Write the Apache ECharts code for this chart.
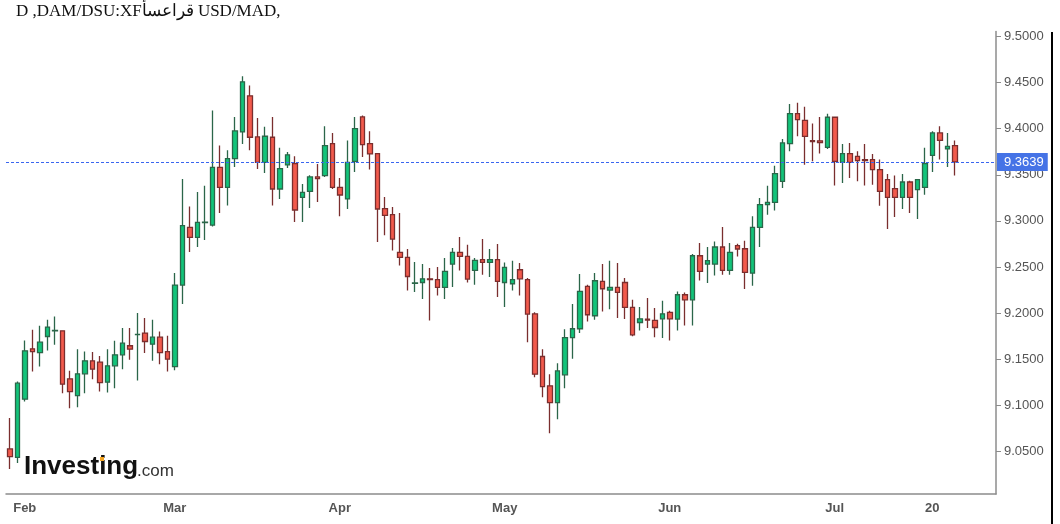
<!DOCTYPE html>
<html>
<head>
<meta charset="utf-8">
<title>USD/MAD</title>
<script src="https://cdn.jsdelivr.net/npm/echarts@6/dist/echarts.min.js"></script>
<style>
  html, body { margin: 0; padding: 0; background: #fff; }
  #chart { width: 1060px; height: 524px; }
</style>
</head>
<body>
<div id="chart"></div>
<script>
// daily candles
var opens = [
  9.0527, 9.0436, 9.1066, 9.1612, 9.1572, 9.1746, 9.1808, 9.1808, 9.1287, 9.1105,
  9.1341, 9.1482, 9.1468, 9.1251, 9.1428, 9.1547, 9.1646, 9.1766, 9.1783, 9.1663,
  9.1739, 9.1583, 9.1420, 9.2304, 9.2930, 9.2821, 9.2982, 9.2955, 9.3581, 9.3364,
  9.3675, 9.3965, 9.4356, 9.3911, 9.3635, 9.3907, 9.3346, 9.3607, 9.3621, 9.3255,
  9.3320, 9.3477, 9.3491, 9.3838, 9.3364, 9.3238, 9.3646, 9.4128, 9.3838, 9.3730,
  9.3132, 9.3067, 9.2658, 9.2604, 9.2322, 9.2332, 9.2372, 9.2362, 9.2278, 9.2532,
  9.2658, 9.2615, 9.2463, 9.2579, 9.2549, 9.2579, 9.2332, 9.2318, 9.2470, 9.2362,
  9.1992, 9.1529, 9.1211, 9.1029, 9.1330, 9.1735, 9.1830, 9.2289, 9.1971, 9.2343,
  9.2250, 9.2278, 9.2332, 9.2061, 9.1898, 9.1935, 9.1920, 9.1938, 9.2007, 9.1935,
  9.2199, 9.2144, 9.2622, 9.2532, 9.2532, 9.2717, 9.2463, 9.2731, 9.2698, 9.2434,
  9.2930, 9.3176, 9.3201, 9.3429, 9.3838, 9.4164, 9.4091, 9.3871, 9.3868, 9.3798,
  9.4124, 9.3635, 9.3730, 9.3700, 9.3665, 9.3665, 9.3556, 9.3447, 9.3350, 9.3255,
  9.3422, 9.3339, 9.3364, 9.3711, 9.3954, 9.3781, 9.3817
];
var closes = [
  9.0443, 9.1240, 9.1591, 9.1583, 9.1685, 9.1848, 9.1812, 9.1229, 9.1149, 9.1341,
  9.1482, 9.1392, 9.1246, 9.1428, 9.1547, 9.1674, 9.1609, 9.1770, 9.1692, 9.1739,
  9.1572, 9.1500, 9.2304, 9.2948, 9.2821, 9.2984, 9.2986, 9.3581, 9.3364, 9.3675,
  9.3976, 9.4508, 9.3907, 9.3635, 9.3918, 9.3346, 9.3567, 9.3716, 9.3118, 9.3309,
  9.3477, 9.3458, 9.3817, 9.3364, 9.3281, 9.3635, 9.4001, 9.3827, 9.3726, 9.3129,
  9.3060, 9.2803, 9.2604, 9.2397, 9.2327, 9.2372, 9.2362, 9.2278, 9.2452, 9.2658,
  9.2615, 9.2369, 9.2571, 9.2549, 9.2579, 9.2343, 9.2495, 9.2362, 9.2372, 9.1989,
  9.1338, 9.1203, 9.1029, 9.1373, 9.1735, 9.1830, 9.2235, 9.1982, 9.2351, 9.2264,
  9.2278, 9.2224, 9.2061, 9.1764, 9.1938, 9.1924, 9.1844, 9.1992, 9.1938, 9.2199,
  9.2144, 9.2622, 9.2452, 9.2568, 9.2717, 9.2463, 9.2658, 9.2695, 9.2441, 9.2930,
  9.3176, 9.3201, 9.3512, 9.3846, 9.4164, 9.4099, 9.3917, 9.3860, 9.3849, 9.4124,
  9.3646, 9.3730, 9.3635, 9.3654, 9.3654, 9.3556, 9.3320, 9.3255, 9.3255, 9.3422,
  9.3255, 9.3447, 9.3621, 9.3954, 9.3874, 9.3809, 9.3639
];
var lows = [
  9.0310, 9.0375, 9.1040, 9.1366, 9.1420, 9.1594, 9.1656, 9.1131, 9.0968, 9.0979,
  9.1131, 9.1283, 9.1149, 9.1138, 9.1186, 9.1392, 9.1493, 9.1268, 9.1566, 9.1482,
  9.1446, 9.1366, 9.1380, 9.2098, 9.2662, 9.2717, 9.2793, 9.2940, 9.3086, 9.3168,
  9.3585, 9.3835, 9.3766, 9.3564, 9.3520, 9.3168, 9.3238, 9.3574, 9.2988, 9.2988,
  9.3140, 9.3205, 9.3477, 9.3346, 9.3049, 9.3129, 9.3531, 9.3694, 9.3556, 9.2771,
  9.2843, 9.2680, 9.2517, 9.2245, 9.2228, 9.2152, 9.1920, 9.2191, 9.2152, 9.2282,
  9.2463, 9.2332, 9.2307, 9.2416, 9.2391, 9.2174, 9.2065, 9.2245, 9.2191, 9.1685,
  9.1305, 9.1088, 9.0697, 9.0849, 9.1186, 9.1504, 9.1783, 9.1909, 9.1927, 9.2017,
  9.2043, 9.1946, 9.1935, 9.1750, 9.1811, 9.1837, 9.1739, 9.1729, 9.1702, 9.1811,
  9.1865, 9.1865, 9.2354, 9.2326, 9.2408, 9.2416, 9.2416, 9.2615, 9.2261, 9.2296,
  9.2717, 9.3067, 9.3114, 9.3357, 9.3755, 9.3917, 9.3610, 9.3646, 9.3730, 9.3781,
  9.3385, 9.3412, 9.3466, 9.3429, 9.3385, 9.3393, 9.3165, 9.2912, 9.3042, 9.3129,
  9.3086, 9.3021, 9.3284, 9.3531, 9.3665, 9.3585, 9.3491
];
var highs = [
  9.0863, 9.1257, 9.1703, 9.1819, 9.1862, 9.1927, 9.1963, 9.1815, 9.1374, 9.1609,
  9.1583, 9.1577, 9.1536, 9.1609, 9.1699, 9.1837, 9.1837, 9.2000, 9.1946, 9.1927,
  9.1800, 9.1754, 9.2434, 9.3455, 9.3157, 9.3314, 9.3382, 9.4197, 9.3817, 9.3766,
  9.4128, 9.4569, 9.4468, 9.4117, 9.4020, 9.4128, 9.3792, 9.3748, 9.3700, 9.3400,
  9.3494, 9.3618, 9.4026, 9.3954, 9.3466, 9.3871, 9.4128, 9.4142, 9.3972, 9.3735,
  9.3260, 9.3151, 9.3086, 9.2695, 9.2554, 9.2532, 9.2489, 9.2500, 9.2597, 9.2706,
  9.2825, 9.2742, 9.2597, 9.2803, 9.2695, 9.2749, 9.2549, 9.2568, 9.2543, 9.2380,
  9.2010, 9.1609, 9.1338, 9.1457, 9.1826, 9.2098, 9.2423, 9.2307, 9.2434, 9.2532,
  9.2568, 9.2543, 9.2380, 9.2144, 9.2065, 9.2163, 9.2054, 9.2134, 9.2025, 9.2235,
  9.2224, 9.2641, 9.2760, 9.2717, 9.2777, 9.2934, 9.2760, 9.2752, 9.2785, 9.3049,
  9.3249, 9.3382, 9.3599, 9.3889, 9.4269, 9.4280, 9.4237, 9.4055, 9.4128, 9.4161,
  9.4128, 9.3835, 9.3846, 9.3755, 9.3835, 9.3726, 9.3665, 9.3509, 9.3491, 9.3509,
  9.3436, 9.3455, 9.3792, 9.3972, 9.4026, 9.3954, 9.3871
];

// x labels: [category index, text]
var dateTicks = [[2, 'Feb'], [22, 'Mar'], [44, 'Apr'], [66, 'May'], [88, 'Jun'], [110, 'Jul'], [123, '20']];
var priceTicks = [9.05, 9.10, 9.15, 9.20, 9.25, 9.30, 9.35, 9.40, 9.45, 9.50];
var lastPrice = 9.3639;
var emptySlots = 5; // free room right of the last candle

// trading days (weekdays) starting Jan 28
var days = [];
var d = new Date(2021, 0, 28);
while (days.length < opens.length + emptySlots) {
  var wd = d.getDay();
  if (wd !== 0 && wd !== 6) {
    days.push((d.getMonth() + 1) + '/' + d.getDate());
  }
  d.setDate(d.getDate() + 1);
}

var candles = [];
for (var i = 0; i < opens.length; i++) {
  candles.push([opens[i], closes[i], lows[i], highs[i]]);
}

var tickAt = {};
dateTicks.forEach(function (t) { tickAt[t[0]] = t[1]; });

var priceLine = { color: '#3a66f0', type: [3, 2], width: 1, opacity: 1 };

var chart = echarts.init(document.getElementById('chart'), null, { renderer: 'canvas' });
chart.setOption({
  backgroundColor: '#fff',
  animation: false,
  grid: { left: 6, right: 64, top: 31.5, bottom: 30 },
  xAxis: {
    type: 'category',
    data: days,
    boundaryGap: true,
    axisLine: { lineStyle: { color: '#8c8c8c', width: 1.5 } },
    axisTick: {
      alignWithLabel: true,
      length: 4,
      interval: function (idx) { return tickAt[idx] !== undefined; },
      lineStyle: { color: '#8c8c8c' }
    },
    axisLabel: {
      interval: function (idx) { return tickAt[idx] !== undefined; },
      formatter: function (v, idx) { return tickAt[idx] || ''; },
      color: '#555',
      fontFamily: 'Liberation Sans, Arial, sans-serif',
      fontWeight: 'bold',
      fontSize: 13,
      margin: 8
    },
    splitLine: { show: false }
  },
  yAxis: {
    type: 'value',
    position: 'right',
    min: 9.0038,
    max: 9.5054,
    axisLine: { show: true, lineStyle: { color: '#8c8c8c', width: 1.5 } },
    axisTick: { show: true, length: 5, customValues: priceTicks, lineStyle: { color: '#8c8c8c' } },
    axisLabel: {
      customValues: priceTicks,
      formatter: function (v) { return v.toFixed(4); },
      color: '#555',
      fontFamily: 'Liberation Sans, Arial, sans-serif',
      fontSize: 13,
      margin: 8
    },
    splitLine: { show: false }
  },
  series: [
    {
      type: 'candlestick',
      data: candles,
      barWidth: 5,
      itemStyle: {
        color: '#12c47a',
        color0: '#f25a4c',
        borderColor: '#2b6649',
        borderColor0: '#7a2e2e',
        borderWidth: 1.3
      },
      markLine: {
        silent: true,
        symbol: 'none',
        precision: 4,
        lineStyle: priceLine,
        label: {
          position: 'end',
          formatter: lastPrice.toFixed(4),
          color: '#fff',
          backgroundColor: '#4573e6',
          fontFamily: 'Liberation Sans, Arial, sans-serif',
          fontSize: 13,
          padding: [3, 4, 2, 7],
          distance: 1
        },
        data: [{ yAxis: lastPrice, lineStyle: priceLine }]
      }
    }
  ],
  graphic: [
    {
      type: 'text',
      left: 16,
      top: 3,
      style: {
        text: 'D ,DAM/DSU:XF\u0642\u0631\u0627\u0639\u0633\u0623 USD/MAD,',
        font: '17px "Liberation Serif", "DejaVu Serif", serif',
        fill: '#111'
      }
    },
    {
      type: 'text',
      left: 24,
      top: 454,
      style: {
        text: 'Investing',
        font: 'bold 26px "Liberation Sans", Arial, sans-serif',
        fill: '#111'
      }
    },
    {
      type: 'text',
      left: 137,
      top: 463,
      style: {
        text: '.com',
        font: '17px "Liberation Sans", Arial, sans-serif',
        fill: '#333'
      }
    },
    {
      type: 'rect',
      shape: { x: 100, y: 457, width: 4, height: 4 },
      style: { fill: '#f5a623' }
    },
    {
      type: 'line',
      shape: { x1: 1052, y1: 32, x2: 1052, y2: 524 },
      style: { stroke: '#000', lineWidth: 2 }
    }
  ]
});
</script>
</body>
</html>
